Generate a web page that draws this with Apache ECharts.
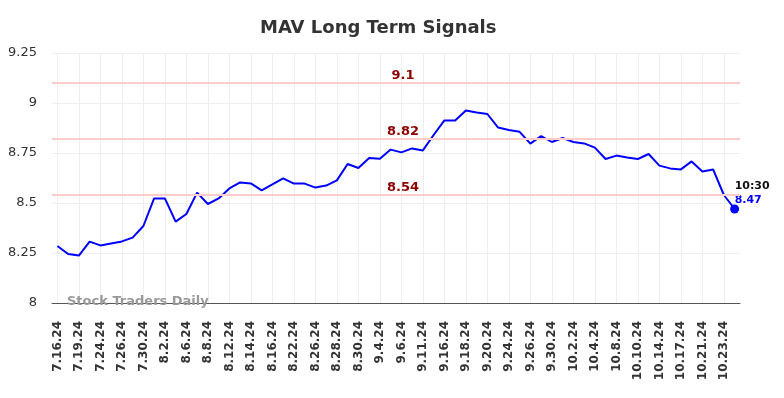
<!DOCTYPE html>
<html><head><meta charset="utf-8">
<script src="https://cdn.jsdelivr.net/npm/echarts@6/dist/echarts.min.js"></script>
<style>html,body{margin:0;padding:0;background:#fff}#c{width:784px;height:398px}</style>
</head><body><div id="c"></div>
<script>
var categories = ['7.16.24','7.17.24','7.19.24','7.22.24','7.24.24','7.25.24','7.26.24','7.29.24','7.30.24','8.1.24',
'8.2.24','8.5.24','8.6.24','8.7.24','8.8.24','8.9.24','8.12.24','8.13.24','8.14.24','8.15.24',
'8.16.24','8.20.24','8.22.24','8.23.24','8.26.24','8.27.24','8.28.24','8.29.24','8.30.24','9.3.24',
'9.4.24','9.5.24','9.6.24','9.9.24','9.11.24','9.13.24','9.16.24','9.17.24','9.18.24','9.19.24',
'9.20.24','9.23.24','9.24.24','9.25.24','9.26.24','9.27.24','9.30.24','10.1.24','10.2.24','10.3.24',
'10.4.24','10.7.24','10.8.24','10.9.24','10.10.24','10.11.24','10.14.24','10.16.24','10.17.24','10.18.24',
'10.21.24','10.22.24','10.23.24','10.24.24'];
var values = [8.285,8.245,8.237,8.307,8.288,8.298,8.308,8.327,8.385,8.523,
8.523,8.407,8.445,8.552,8.495,8.523,8.573,8.603,8.598,8.563,
8.593,8.623,8.597,8.597,8.577,8.587,8.613,8.695,8.675,8.725,
8.721,8.767,8.753,8.773,8.763,8.84,8.913,8.913,8.963,8.952,
8.945,8.877,8.865,8.856,8.797,8.835,8.805,8.825,8.805,8.798,
8.777,8.72,8.737,8.727,8.72,8.745,8.687,8.673,8.668,8.708,
8.658,8.668,8.54,8.47];
var signalLevels = [9.1, 8.82, 8.54];
var signalLabels = ['9.1', '8.82', '8.54'];
var lastTime = '10:30';
var lastLabel = '8.47';
var yTicks = {min: 8, max: 9.25, interval: 0.25};

var chart = echarts.init(document.getElementById('c'));
var seriesData = values.map(function(v, i){
  if (i === values.length - 1) {
    return {value: v, symbol: 'circle', symbolSize: 9,
      label: {show: true, position: 'top', distance: -3, align: 'left',
        formatter: '{t|' + lastTime + '}\n{v|' + lastLabel + '}',
        rich: {t: {color: '#111', fontWeight: 'bold', fontSize: 11, fontFamily: 'DejaVu Sans', lineHeight: 14, align: 'left'},
               v: {color: '#0000ff', fontWeight: 'bold', fontSize: 11, fontFamily: 'DejaVu Sans', lineHeight: 14, align: 'left'}}}};
  }
  return {value: v, symbol: 'none'};
});
chart.setOption({
  animation: false,
  title: {text: 'MAV Long Term Signals', left: 255, top: 14,
    textStyle: {fontFamily: 'DejaVu Sans', fontWeight: 'bold', fontSize: 18, color: '#333'}},
  grid: {left: 52, right: 44, top: 53, bottom: 95},
  xAxis: {type: 'category', data: categories, boundaryGap: true,
    axisLine: {lineStyle: {color: '#555', width: 1}},
    axisTick: {show: false, alignWithLabel: true, interval: 1},
    axisLabel: {interval: 1, rotate: 90, margin: 18, color: '#333', fontWeight: 'bold', fontSize: 12, fontFamily: 'DejaVu Sans'},
    splitLine: {show: true, interval: 1, alignWithLabel: true, lineStyle: {color: '#eeeeee', width: 1}}},
  yAxis: {type: 'value', min: yTicks.min, max: yTicks.max, interval: yTicks.interval,
    axisLine: {show: false}, axisTick: {show: false},
    axisLabel: {color: '#333', fontSize: 13, fontFamily: 'DejaVu Sans', margin: 15},
    splitLine: {lineStyle: {color: '#eeeeee', width: 1}}},
  graphic: [{type: 'text', left: 67, top: 295, z: 100,
    style: {text: 'Stock Traders Daily', fill: '#999', font: 'bold 13px "DejaVu Sans"'}}],
  series: [{type: 'line', data: seriesData, lineStyle: {color: '#0000ff', width: 2}, itemStyle: {color: '#0000ff'},
    showSymbol: true, z: 3,
    markLine: {silent: true, symbol: 'none',
      lineStyle: {color: '#ffcccc', width: 2, type: 'solid'},
      label: {position: 'middle', color: '#8b0000', fontWeight: 'bold', fontSize: 13, fontFamily: 'DejaVu Sans', distance: 1, padding: [0, 0, 0, 14]},
      data: signalLevels.map(function(v, i){ return {yAxis: v, label: {formatter: signalLabels[i]}}; })}}]
});
</script></body></html>
